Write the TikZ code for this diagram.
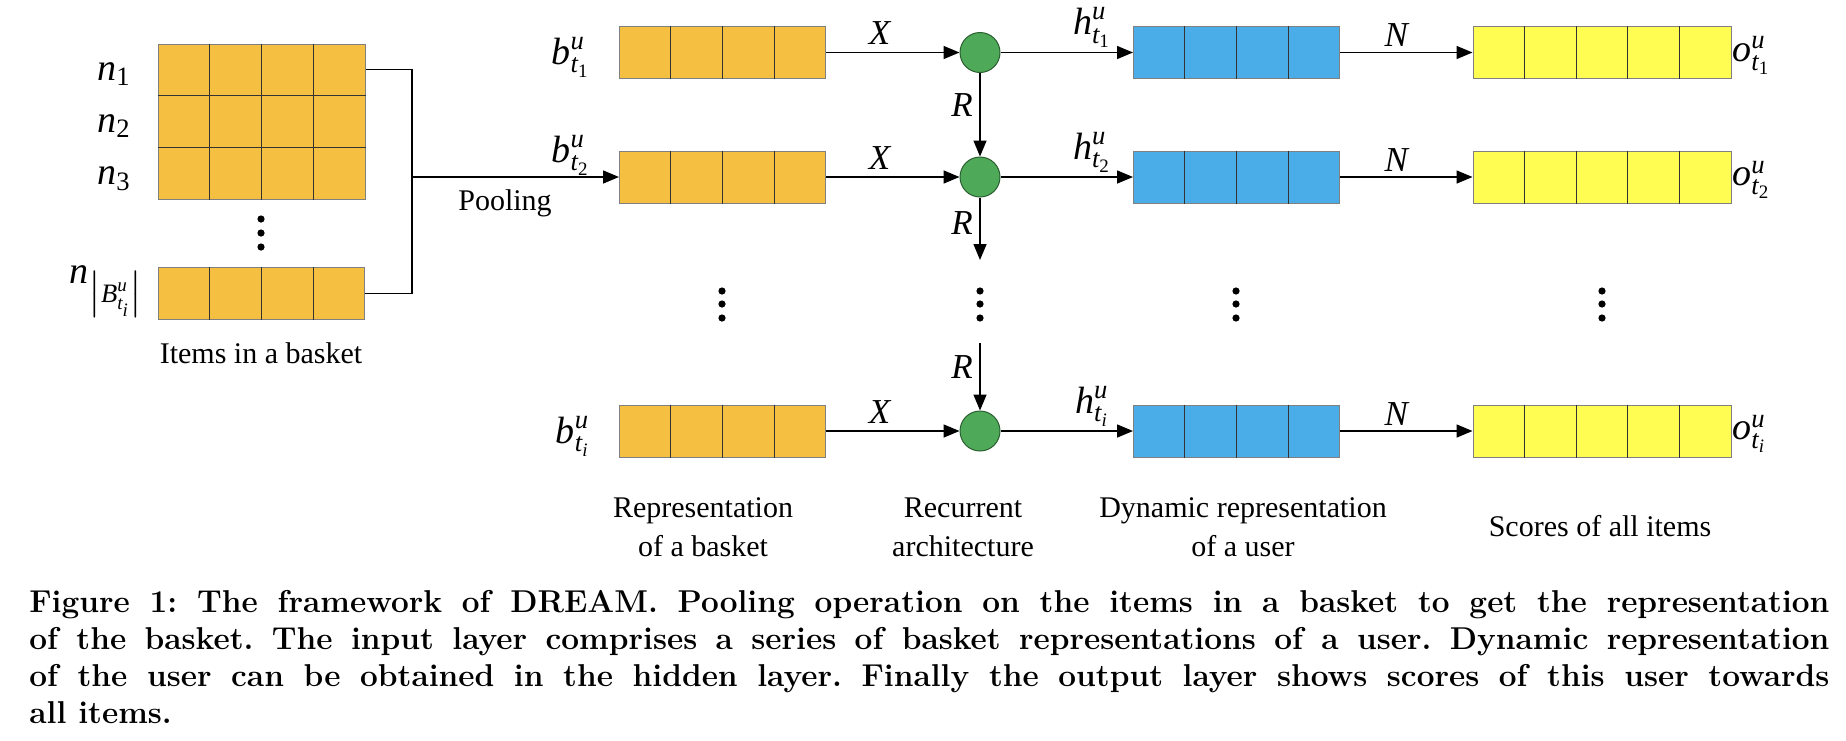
\documentclass[tikz,border=0pt]{standalone}
\usepackage{amsmath}
\usepackage{amssymb}
\usepackage{fontspec}
\usepackage{tikz}
\usetikzlibrary{arrows.meta,calc}
\newfontfamily\lblfont{Liberation Serif}
\definecolor{basketorange}{RGB}{245,191,66}
\definecolor{hiddenblue}{RGB}{74,173,232}
\definecolor{scoreyellow}{RGB}{255,252,82}
\definecolor{rnngreen}{RGB}{78,170,88}
\newcommand{\stepvec}[2]{$\textit{#1}^{\textit{u}}_{\textit{t}_{#2}}$}

\begin{document}
\begin{tikzpicture}[x=0.5pt,y=-0.5pt,
  vec/.style={draw=black!50,line width=0.5pt,inner sep=0pt,minimum height=26pt},
  bvec/.style={vec,fill=basketorange,minimum width=103pt},
  hvec/.style={vec,fill=hiddenblue,minimum width=103pt},
  ovec/.style={vec,fill=scoreyellow,minimum width=129pt},
  rnn/.style={circle,draw=rnngreen!55!black,fill=rnngreen,line width=0.5pt,minimum size=20pt,inner sep=0pt},
  link/.style={line width=0.75pt,-{Triangle[length=8pt,width=6.5pt]}},
  divider/.style={line width=0.5pt,draw=black!80},
  lbl/.style={font=\lblfont\fontsize{15}{19.5}\selectfont,align=center,inner sep=1pt},
  sym/.style={font=\lblfont\fontsize{19}{22}\selectfont,inner sep=1pt},
  wsym/.style={font=\lblfont\fontsize{17.5}{21}\selectfont,inner sep=1pt}]
\useasboundingbox (0,0) rectangle (1846,740);

% items in a basket
\node[vec,fill=basketorange,minimum width=103.5pt,minimum height=77.5pt] (items) at (261.5,121.5) {};
\node[bvec] (itemlast) at (261.5,293.5) {};
\foreach \k in {1,2,3}
  \draw[divider] ($(items.north west)!\k/4!(items.north east)$) -- ($(items.south west)!\k/4!(items.south east)$);
\foreach \k in {1,2}
  \draw[divider] ($(items.north west)!\k/3!(items.south west)$) -- ($(items.north east)!\k/3!(items.south east)$);
\node[sym,anchor=east] (n1) at (133,74) {$\textit{n}_{\textup{1}}$};
\node[sym,anchor=east] (n2) at (133,126) {$\textit{n}_{\textup{2}}$};
\node[sym,anchor=east] (n3) at (133,179) {$\textit{n}_{\textup{3}}$};
\node[sym,anchor=east] (nlast) at (146,291) {$\textit{n}_{\bigl|\textit{B}^{\textit{u}}_{\textit{t}_{\textit{i}}}\bigr|}$};
\foreach \y in {219,233,247}
  \fill (261,\y) circle[radius=1.8pt];
\node[lbl] (itemslbl) at (261,353) {Items in a basket};

% pooling
\coordinate (pool) at (412,177);
\draw[line width=0.75pt] ($(items.north east)!1/6!(items.south east)$) -| (pool) |- (itemlast.east);
\node[lbl] (poollbl) at (505,203) {Pooling};

% the time steps
\foreach \r/\y/\s/\by in {1/52.5/{\textup{1}}/57,2/177/{\textup{2}}/155,3/431/{\textit{i}}/436} {
  \node[bvec] (bask\r) at (722.5,\y) {};
  \node[rnn] (rnn\r) at (980,\y) {};
  \node[hvec] (hid\r) at (1236.5,\y) {};
  \node[ovec] (out\r) at (1602,\y) {};
  \node[sym,anchor=east] (blbl\r) at (592,\by) {\stepvec{b}{\s}};
  \node[sym] (hlbl\r) at (1092,\y-25) {\stepvec{h}{\s}};
  \node[sym,anchor=west] (olbl\r) at (1730,\y+3) {\stepvec{o}{\s}};
  \node[wsym] (xlbl\r) at (880,\y-19) {\textit{X}};
  \node[wsym] (nlbl\r) at (1397,\y-17) {\textit{N}};
  \draw[link] (bask\r) -- (rnn\r);
  \draw[link] (rnn\r) -- (hid\r);
  \draw[link] (hid\r) -- (out\r);
}
\foreach \n in {itemlast,bask1,bask2,bask3,hid1,hid2,hid3}
  \foreach \k in {1,2,3}
    \draw[divider] ($(\n.north west)!\k/4!(\n.north east)$) -- ($(\n.south west)!\k/4!(\n.south east)$);
\foreach \n in {out1,out2,out3}
  \foreach \k in {1,2,3,4}
    \draw[divider] ($(\n.north west)!\k/5!(\n.north east)$) -- ($(\n.south west)!\k/5!(\n.south east)$);
\draw[link] (pool) -- (bask2);

% recurrent links
\coordinate (rdown) at (980,260);
\coordinate (rup) at (980,343);
\draw[link] (rnn1) -- (rnn2);
\draw[link] (rnn2) -- (rdown);
\draw[link] (rup) -- (rnn3);
\node[wsym] (rlbl1) at (962,105) {\textit{R}};
\node[wsym] (rlbl2) at (962,223) {\textit{R}};
\node[wsym] (rlbl3) at (962,367) {\textit{R}};
\foreach \x in {722,980,1236,1602}
  \foreach \y in {291,304,318}
    \fill (\x,\y) circle[radius=1.8pt];

% layer names
\node[lbl] (basklbl) at (703,527) {Representation\\of a basket};
\node[lbl] (rnnlbl) at (963,527) {Recurrent\\architecture};
\node[lbl] (hidlbl) at (1243,527) {Dynamic representation\\of a user};
\node[lbl] (outlbl) at (1600,526) {Scores of all items};

% caption
\node[anchor=north west,text width=900pt,align=justify,inner sep=0pt,
  font=\frenchspacing\bfseries\fontsize{15.8}{18.5}\selectfont] (caption) at (29,590)
  {Figure 1: The framework of DREAM. Pooling operation on the items in a basket to get the representation\linebreak
   of the basket. The input layer comprises a series of basket representations of a user. Dynamic representation\linebreak
   of the user can be obtained in the hidden layer. Finally the output layer shows scores of this user towards\linebreak
   all items.};
\end{tikzpicture}
\end{document}
